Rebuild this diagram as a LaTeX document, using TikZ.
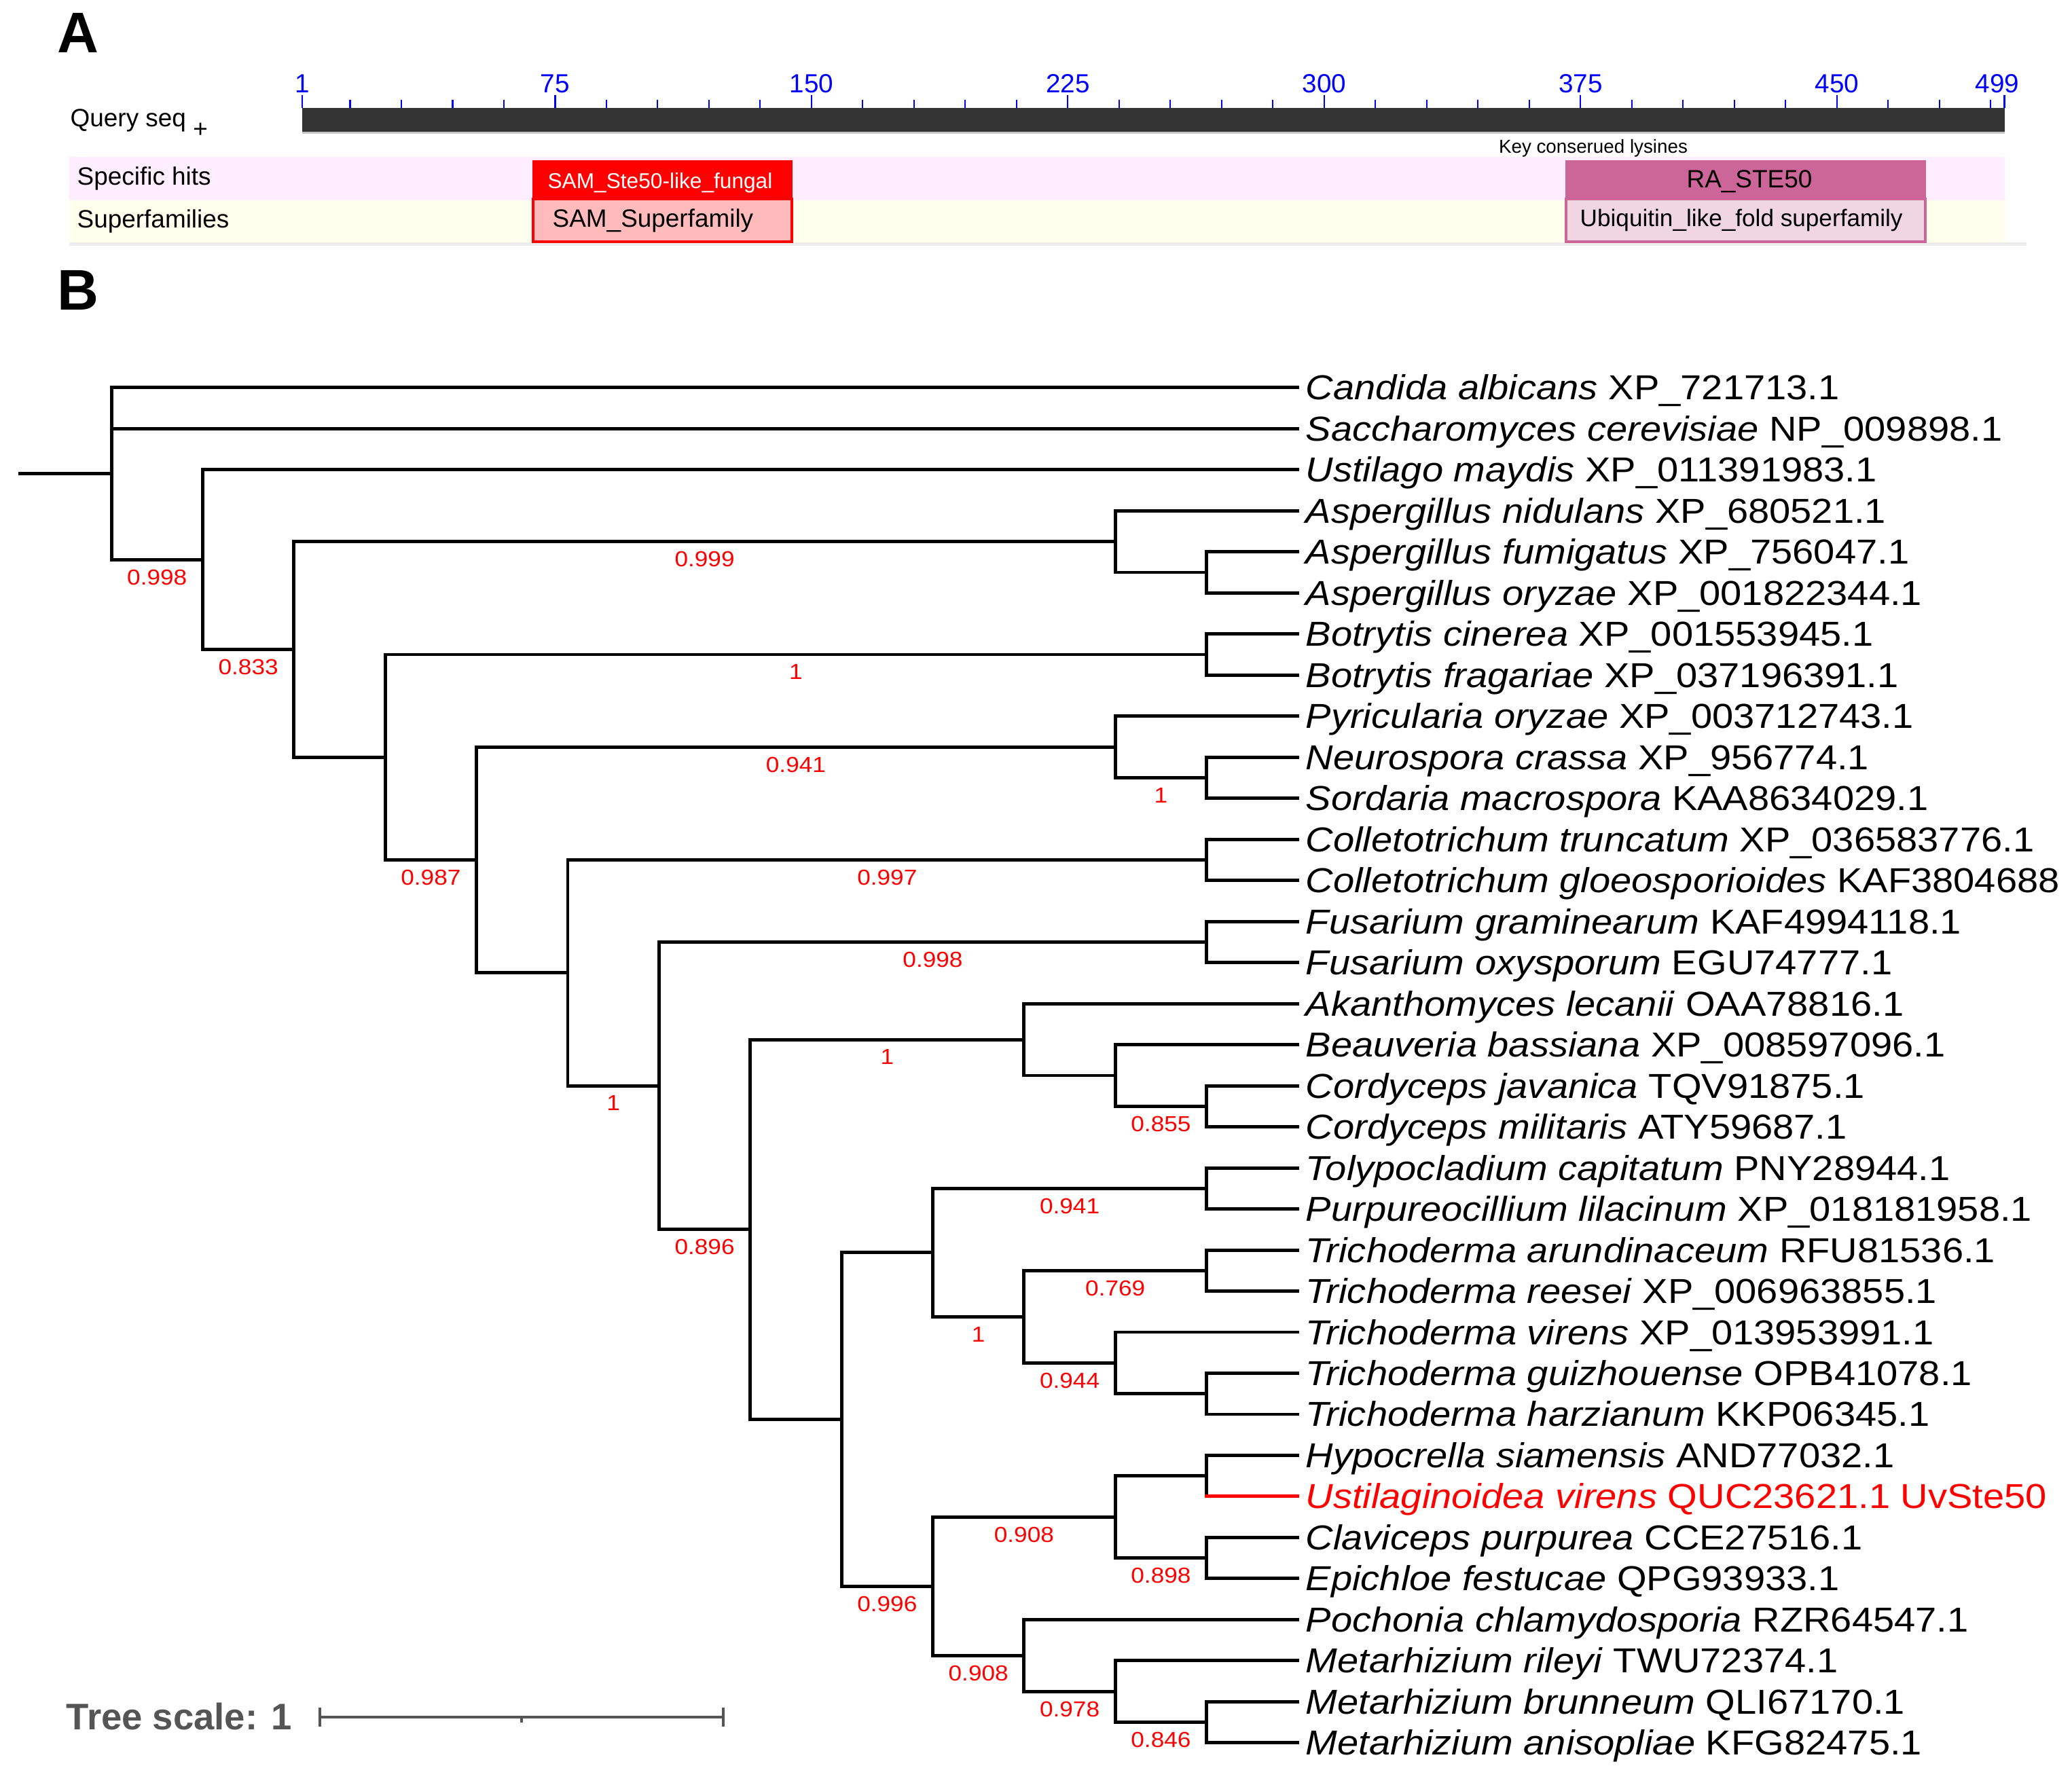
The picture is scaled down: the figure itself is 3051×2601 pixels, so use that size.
\documentclass[tikz,border=0pt]{standalone}
\usepackage{fontspec}
\setmainfont{Liberation Sans}
\usetikzlibrary{calc}
\definecolor{rabox}{HTML}{CC6699}
\definecolor{ubbox}{HTML}{F0D5E3}
\definecolor{sampink}{HTML}{FFBBBB}
\definecolor{bandpink}{HTML}{FFEEFF}
\definecolor{bandyellow}{HTML}{FFFFEE}
\definecolor{bargray}{HTML}{333333}
\definecolor{scalegray}{HTML}{555555}
\definecolor{tickblue}{HTML}{0000FF}
\newcommand\leaflab[2]{\scalebox{1.1}[1]{\textit{#1} #2}}
\newcommand\bsv[1]{\scalebox{1.1}[1]{#1}}
\begin{document}
\begin{tikzpicture}[x=0.01cm,y=-0.01cm,
  paneltag/.style={font=\bfseries\fontsize{24}{28}\selectfont, anchor=base west, inner sep=0pt},
  rowlab/.style={font=\fontsize{10.5}{12}\selectfont, anchor=base west, inner sep=0pt},
  ticklab/.style={font=\fontsize{11}{13}\selectfont, text=tickblue, anchor=base, inner sep=0pt},
  tickln/.style={draw=tickblue, line width=0.6pt},
  br/.style={line width=1.4pt, line cap=rect, line join=miter},
  leaf/.style={font=\fontsize{14.5}{17}\selectfont, anchor=base west, inner sep=0pt, xshift=0.11cm, yshift=-0.18cm},
  bs/.style={font=\fontsize{9.1}{11}\selectfont, text=red, anchor=north, inner sep=0pt, yshift=-0.14cm}]
\useasboundingbox (0,0) rectangle (3051,2601);

% ---------------- Panel A ----------------
\node[paneltag] (labA) at (84,78) {A};

\fill[bandpink] (102,231) rectangle (2952,295);
\fill[bandyellow] (102,295) rectangle (2952,357);
\fill[gray!15] (102,357) rectangle (2984,362);

\fill[bargray] (445,159) rectangle (2952,194);
\fill[gray!45] (445,194) rectangle (2952,197);

\foreach \r in {15,30,...,495}
  \draw[tickln] ({445+(\r-1)*5.033},147) -- ({445+(\r-1)*5.033},159);
\foreach \r in {1,75,150,225,300,375,450,499}
  \draw[tickln] ({445+(\r-1)*5.033},140) -- ({445+(\r-1)*5.033},159);
\foreach \r in {1,75,150,225,300,375,450}
  \node[ticklab] (tk\r) at ({445+(\r-1)*5.033},137) {\r};
\node[ticklab] (tk499) at (2941,137) {499};

\node[rowlab] (qs) at (103,187) {Query seq \raisebox{-4.5pt}{+}};
\node[rowlab] (sh) at (113,273) {Specific hits};
\node[rowlab] (sf) at (113,336) {Superfamilies};

\node[font=\fontsize{7.9}{9}\selectfont, anchor=base, inner sep=0pt] (kcl) at (2346,226) {Key conserued lysines};

\draw[fill=red, draw=red, line width=0.6pt] (785,237) rectangle (1166,293);
\node[font=\fontsize{9}{11}\selectfont, text=white, anchor=base, inner sep=0pt] (samhit) at (972,278) {SAM\_Ste50-like\_fungal};
\draw[fill=sampink, draw=red, line width=0.9pt] (785,293) rectangle (1166,356);
\node[rowlab] (samsf) at (813,335) {SAM\_Superfamily};

\draw[fill=rabox, draw=rabox, line width=0.6pt] (2306,237) rectangle (2835,293);
\node[font=\fontsize{10.5}{12}\selectfont, anchor=base, inner sep=0pt] (rahit) at (2576,277) {RA\_STE50};
\draw[fill=ubbox, draw=rabox, line width=0.9pt] (2306,293) rectangle (2835,356);
\node[font=\fontsize{10}{12}\selectfont, anchor=base west, inner sep=0pt] (ubsf) at (2326,334) {Ubiquitin\_like\_fold superfamily};

% ---------------- Panel B ----------------
\node[paneltag] (labB) at (84,457) {B};

\node[font=\bfseries\fontsize{15.5}{18}\selectfont, text=scalegray, anchor=base west, inner sep=0pt] (ts) at (97,2547) {Tree scale: 1};
\coordinate (sb1) at (471,2529);
\coordinate (sb2) at (1065,2529);
\coordinate (sbm) at (768,2529);
\draw[scalegray, line width=0.9pt] (sb1) -- (sb2);
\draw[scalegray, line width=0.9pt] ($(sb1)+(0,-14)$) -- ($(sb1)+(0,14)$);
\draw[scalegray, line width=0.9pt] ($(sb2)+(0,-14)$) -- ($(sb2)+(0,14)$);
\draw[scalegray, line width=0.9pt] (sbm) -- ($(sbm)+(0,8)$);

\begin{scope}[shift={(1.64cm,-5.705cm)}, x=1.343cm, y=-0.6045cm]
\coordinate (stub) at (-1,2.09375);
\coordinate (root) at (0,2.09375);
\coordinate (n1) at (1,4.1875);
\coordinate (n2) at (2,6.375);
\coordinate (nAsp) at (11,3.75);
\coordinate (nAsp2) at (12,4.5);
\coordinate (n3) at (3,9);
\coordinate (nBot) at (12,6.5);
\coordinate (n4) at (4,11.5);
\coordinate (nPyr) at (11,8.75);
\coordinate (nNS) at (12,9.5);
\coordinate (n5) at (5,14.25);
\coordinate (nColl) at (12,11.5);
\coordinate (n6) at (6,17);
\coordinate (nFus) at (12,13.5);
\coordinate (n7) at (7,20.5);
\coordinate (nAkan) at (10,15.875);
\coordinate (nBeau) at (11,16.75);
\coordinate (nCord) at (12,17.5);
\coordinate (n8) at (8,25.125);
\coordinate (n9a) at (9,21.0625);
\coordinate (nToly) at (12,19.5);
\coordinate (nTr1) at (10,22.625);
\coordinate (nTar) at (12,21.5);
\coordinate (nTr2) at (11,23.75);
\coordinate (nTr3) at (12,24.5);
\coordinate (n9b) at (9,29.1875);
\coordinate (nHyp) at (11,27.5);
\coordinate (nHU) at (12,26.5);
\coordinate (nClav) at (12,28.5);
\coordinate (nPoc) at (10,30.875);
\coordinate (nMet) at (11,31.75);
\coordinate (nMet2) at (12,32.5);
\foreach \i in {0,...,33} \coordinate (t\i) at (13,\i);

\draw[br] (stub) -- (root);
\foreach \p/\c in {root/t0, root/t1, root/n1, n1/t2, n1/n2, n2/nAsp, n2/n3,
  nAsp/t3, nAsp/nAsp2, nAsp2/t4, nAsp2/t5, n3/nBot, n3/n4, nBot/t6, nBot/t7,
  n4/nPyr, n4/n5, nPyr/t8, nPyr/nNS, nNS/t9, nNS/t10, n5/nColl, n5/n6,
  nColl/t11, nColl/t12, n6/nFus, n6/n7, nFus/t13, nFus/t14, n7/nAkan, n7/n8,
  nAkan/t15, nAkan/nBeau, nBeau/t16, nBeau/nCord, nCord/t17, nCord/t18,
  n8/n9a, n8/n9b, n9a/nToly, n9a/nTr1, nToly/t19, nToly/t20, nTr1/nTar, nTr1/nTr2,
  nTar/t21, nTar/t22, nTr2/t23, nTr2/nTr3, nTr3/t24, nTr3/t25,
  n9b/nHyp, n9b/nPoc, nHyp/nHU, nHyp/nClav, nHU/t26, nClav/t28, nClav/t29,
  nPoc/t30, nPoc/nMet, nMet/t31, nMet/nMet2, nMet2/t32, nMet2/t33}
  \draw[br] (\p) |- (\c);
\draw[br] (nHU) -- (nHU |- t27);
\draw[br, red] (nHU |- t27) -- (t27);

\foreach \p/\c/\v in {root/n1/0.998, n1/n2/0.833, n2/nAsp/0.999, n3/nBot/1,
  n4/nPyr/0.941, nPyr/nNS/1, n3/n4/0.987, n5/nColl/0.997, n5/n6/1, n6/nFus/0.998,
  n6/n7/0.896, n7/nAkan/1, nBeau/nCord/0.855, n9a/nToly/0.941, nTr1/nTar/0.769,
  n9a/nTr1/1, nTr1/nTr2/0.944, n9b/nHyp/0.908, nHyp/nClav/0.898, n8/n9b/0.996,
  n9b/nPoc/0.908, nPoc/nMet/0.978, nMet/nMet2/0.846}
  \path (\p |- \c) -- (\c) node[midway, bs] {\bsv{\v}};

\node[leaf] (L0) at (t0) {\leaflab{Candida albicans}{XP\_721713.1}};
\node[leaf] (L1) at (t1) {\leaflab{Saccharomyces cerevisiae}{NP\_009898.1}};
\node[leaf] (L2) at (t2) {\leaflab{Ustilago maydis}{XP\_011391983.1}};
\node[leaf] (L3) at (t3) {\leaflab{Aspergillus nidulans}{XP\_680521.1}};
\node[leaf] (L4) at (t4) {\leaflab{Aspergillus fumigatus}{XP\_756047.1}};
\node[leaf] (L5) at (t5) {\leaflab{Aspergillus oryzae}{XP\_001822344.1}};
\node[leaf] (L6) at (t6) {\leaflab{Botrytis cinerea}{XP\_001553945.1}};
\node[leaf] (L7) at (t7) {\leaflab{Botrytis fragariae}{XP\_037196391.1}};
\node[leaf] (L8) at (t8) {\leaflab{Pyricularia oryzae}{XP\_003712743.1}};
\node[leaf] (L9) at (t9) {\leaflab{Neurospora crassa}{XP\_956774.1}};
\node[leaf] (L10) at (t10) {\leaflab{Sordaria macrospora}{KAA8634029.1}};
\node[leaf] (L11) at (t11) {\leaflab{Colletotrichum truncatum}{XP\_036583776.1}};
\node[leaf] (L12) at (t12) {\leaflab{Colletotrichum gloeosporioides}{KAF3804688}};
\node[leaf] (L13) at (t13) {\leaflab{Fusarium graminearum}{KAF4994118.1}};
\node[leaf] (L14) at (t14) {\leaflab{Fusarium oxysporum}{EGU74777.1}};
\node[leaf] (L15) at (t15) {\leaflab{Akanthomyces lecanii}{OAA78816.1}};
\node[leaf] (L16) at (t16) {\leaflab{Beauveria bassiana}{XP\_008597096.1}};
\node[leaf] (L17) at (t17) {\leaflab{Cordyceps javanica}{TQV91875.1}};
\node[leaf] (L18) at (t18) {\leaflab{Cordyceps militaris}{ATY59687.1}};
\node[leaf] (L19) at (t19) {\leaflab{Tolypocladium capitatum}{PNY28944.1}};
\node[leaf] (L20) at (t20) {\leaflab{Purpureocillium lilacinum}{XP\_018181958.1}};
\node[leaf] (L21) at (t21) {\leaflab{Trichoderma arundinaceum}{RFU81536.1}};
\node[leaf] (L22) at (t22) {\leaflab{Trichoderma reesei}{XP\_006963855.1}};
\node[leaf] (L23) at (t23) {\leaflab{Trichoderma virens}{XP\_013953991.1}};
\node[leaf] (L24) at (t24) {\leaflab{Trichoderma guizhouense}{OPB41078.1}};
\node[leaf] (L25) at (t25) {\leaflab{Trichoderma harzianum}{KKP06345.1}};
\node[leaf] (L26) at (t26) {\leaflab{Hypocrella siamensis}{AND77032.1}};
\node[leaf, text=red] (L27) at (t27) {\leaflab{Ustilaginoidea virens}{QUC23621.1 UvSte50}};
\node[leaf] (L28) at (t28) {\leaflab{Claviceps purpurea}{CCE27516.1}};
\node[leaf] (L29) at (t29) {\leaflab{Epichloe festucae}{QPG93933.1}};
\node[leaf] (L30) at (t30) {\leaflab{Pochonia chlamydosporia}{RZR64547.1}};
\node[leaf] (L31) at (t31) {\leaflab{Metarhizium rileyi}{TWU72374.1}};
\node[leaf] (L32) at (t32) {\leaflab{Metarhizium brunneum}{QLI67170.1}};
\node[leaf] (L33) at (t33) {\leaflab{Metarhizium anisopliae}{KFG82475.1}};
\end{scope}
\end{tikzpicture}
\end{document}
